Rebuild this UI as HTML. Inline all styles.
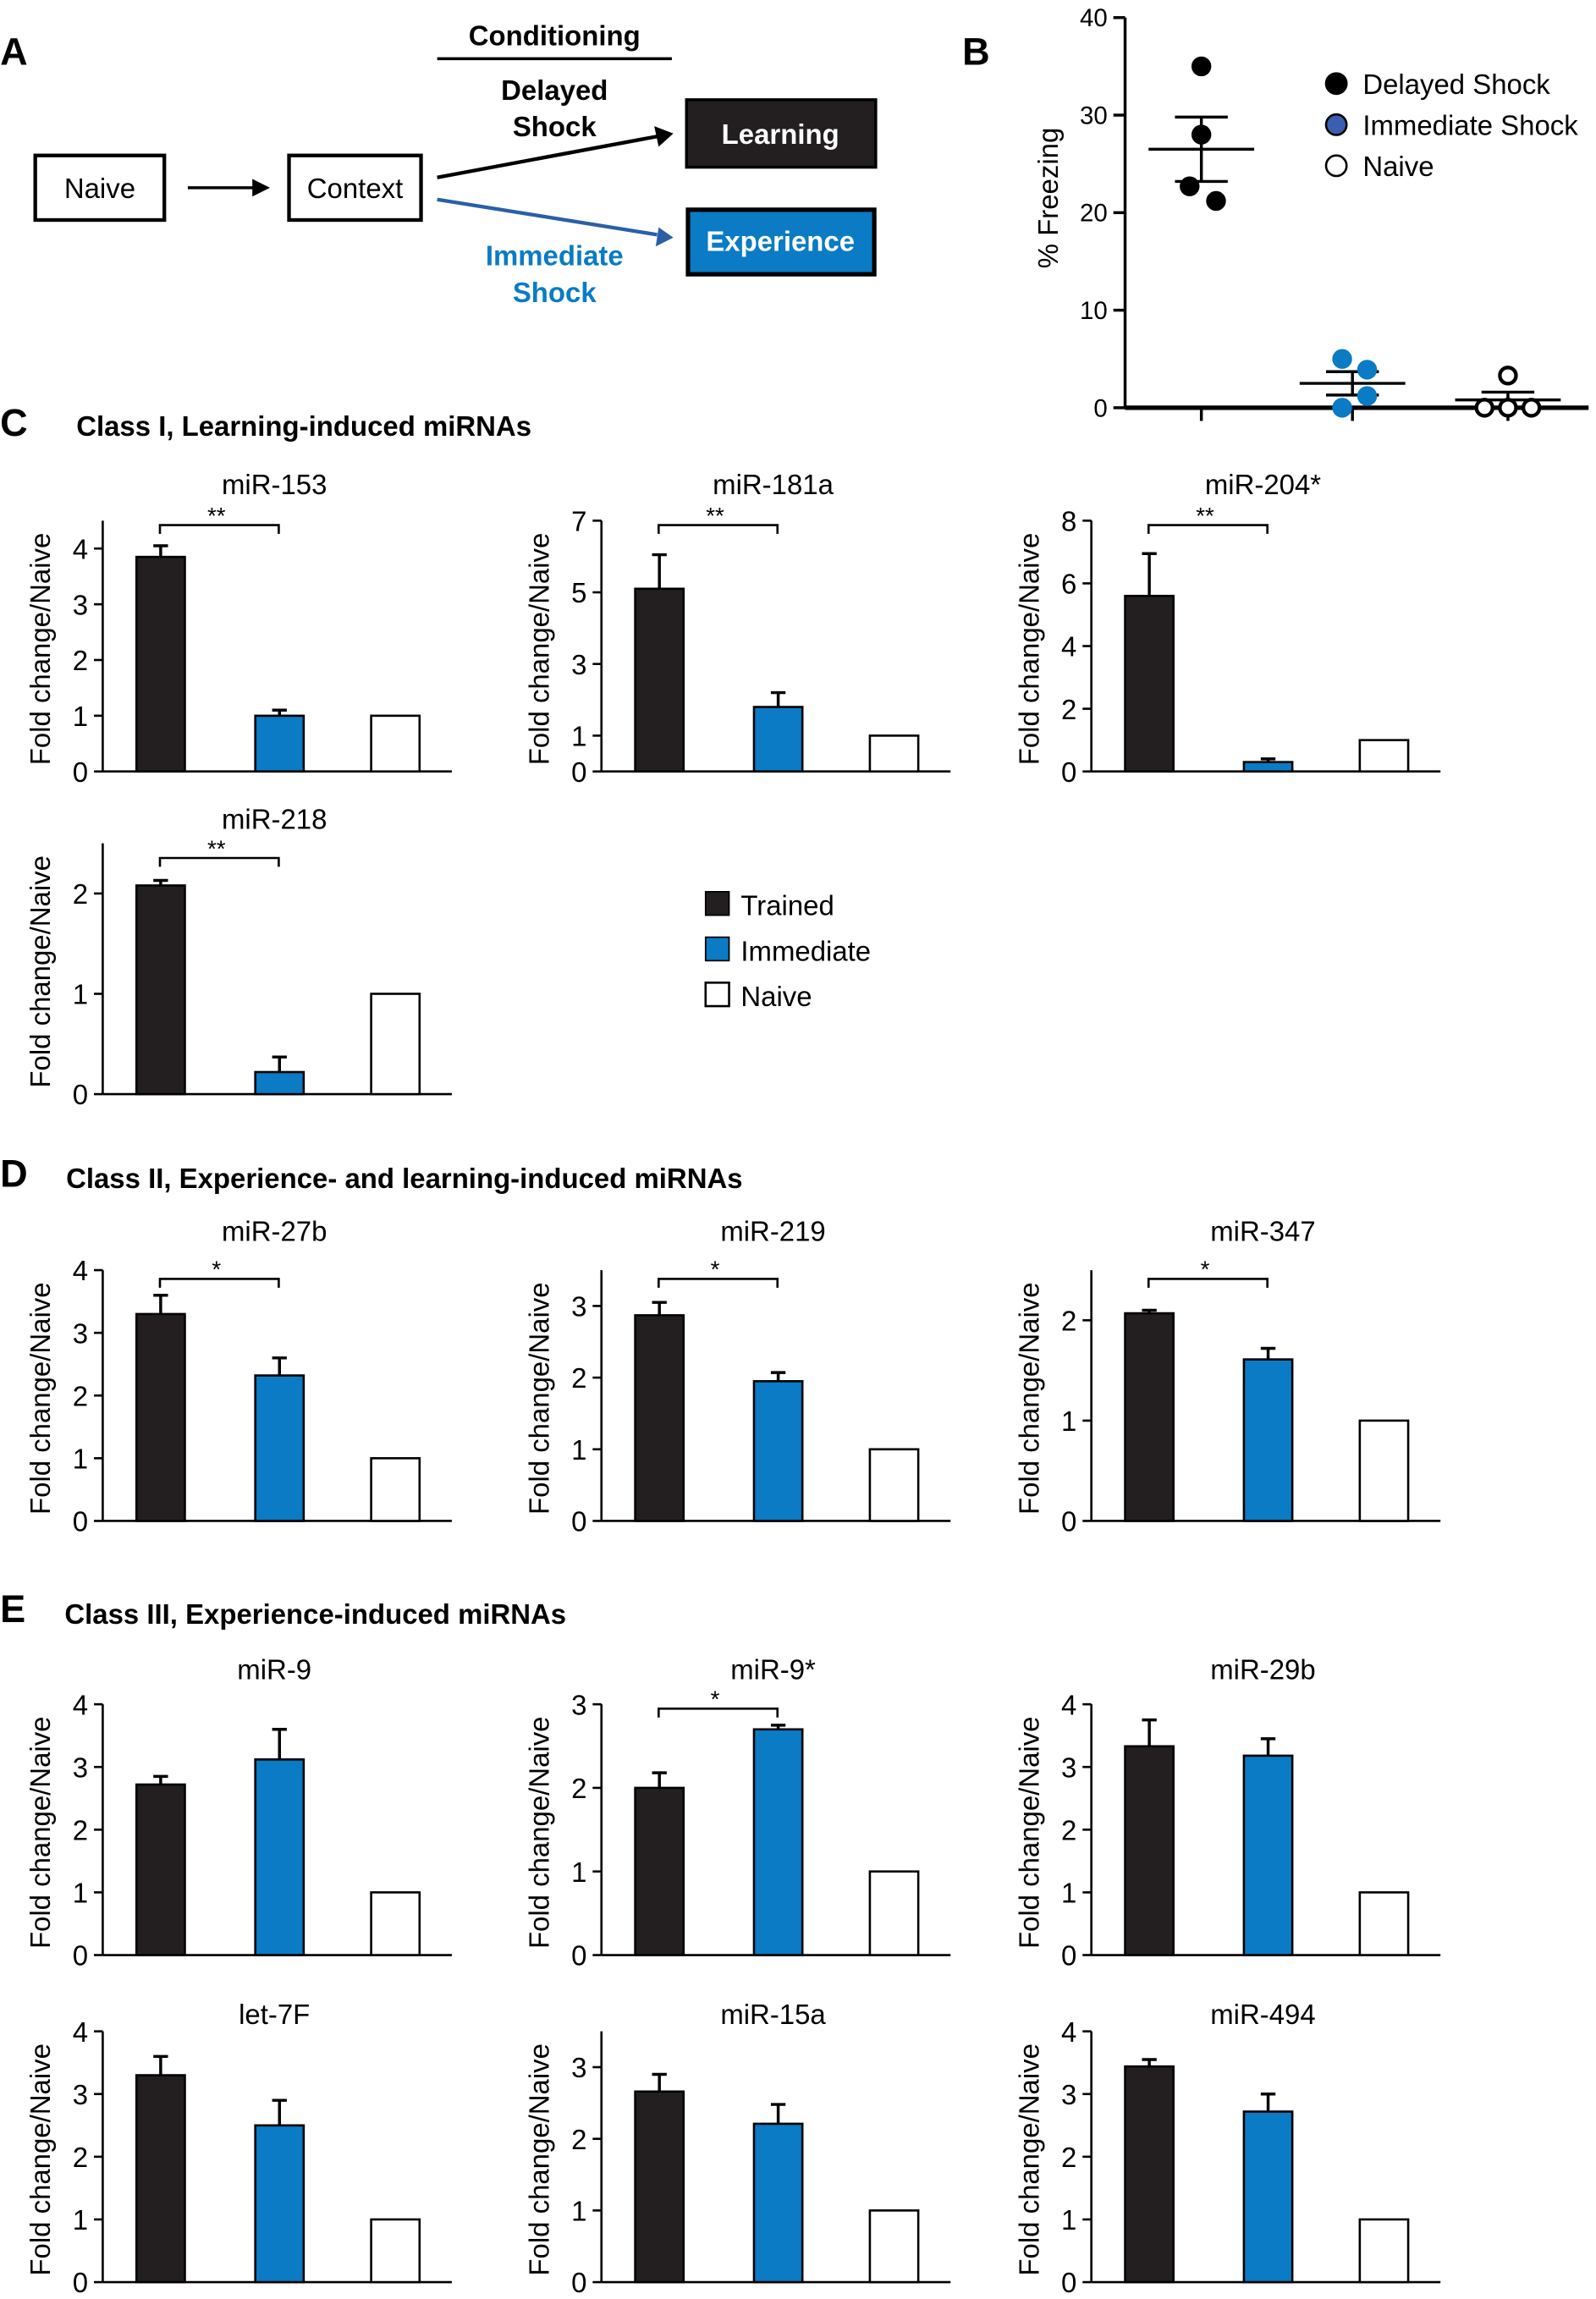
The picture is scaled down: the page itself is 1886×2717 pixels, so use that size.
<!DOCTYPE html>
<html><head><meta charset="utf-8"><style>
html,body{margin:0;padding:0;background:#fff}
svg{display:block;font-family:"Liberation Sans",Arial,sans-serif}
</style></head><body>
<svg id="fig" xmlns="http://www.w3.org/2000/svg" width="1886" height="2717" viewBox="0 0 1088 1567.5">
<g>
<text x="0" y="44" font-size="26" font-weight="bold">A</text>
<rect x="24" y="106" width="88" height="44" fill="none" stroke="#000" stroke-width="2.5"/>
<text x="68" y="135" font-size="19" text-anchor="middle">Naive</text>
<line x1="128" y1="128" x2="176" y2="128" stroke="#000" stroke-width="2"/>
<polygon points="184,128 172,122 172,134" fill="#000"/>
<rect x="197" y="106" width="90" height="44" fill="none" stroke="#000" stroke-width="2.5"/>
<text x="242" y="135" font-size="19" text-anchor="middle">Context</text>
<text x="378" y="31" font-size="19" font-weight="bold" text-anchor="middle">Conditioning</text>
<line x1="298" y1="40" x2="458" y2="40" stroke="#000" stroke-width="2"/>
<text x="378" y="68" font-size="19" font-weight="bold" text-anchor="middle">Delayed</text>
<text x="378" y="93" font-size="19" font-weight="bold" text-anchor="middle">Shock</text>
<line x1="298" y1="121" x2="448" y2="93" stroke="#000" stroke-width="2.5"/>
<polygon points="459,91 446,86 449,100" fill="#000"/>
<line x1="298" y1="136" x2="448" y2="160" stroke="#2a5fa8" stroke-width="2.5"/>
<polygon points="459,162 449,155 447,168" fill="#2a5fa8"/>
<text x="378" y="181" font-size="19" font-weight="bold" fill="#0a7bc4" text-anchor="middle">Immediate</text>
<text x="378" y="206" font-size="19" font-weight="bold" fill="#0a7bc4" text-anchor="middle">Shock</text>
<rect x="468" y="68" width="129" height="46" fill="#231f20" stroke="#000" stroke-width="2"/>
<text x="532" y="98" font-size="19" font-weight="bold" fill="#fff" text-anchor="middle">Learning</text>
<rect x="469" y="143" width="127" height="44" fill="#0a7bc4" stroke="#000" stroke-width="3"/>
<text x="532" y="171" font-size="19" font-weight="bold" fill="#fff" text-anchor="middle">Experience</text>
</g>
<text x="656" y="44" font-size="26" font-weight="bold">B</text>
<g id="panelB"></g>
<text x="0" y="297" font-size="26" font-weight="bold">C</text>
<text x="52" y="297" font-size="19" font-weight="bold">Class I, Learning-induced miRNAs</text>
<text x="0" y="809" font-size="26" font-weight="bold">D</text>
<text x="45" y="810" font-size="19" font-weight="bold">Class II, Experience- and learning-induced miRNAs</text>
<text x="0" y="1106" font-size="26" font-weight="bold">E</text>
<text x="44" y="1107" font-size="19" font-weight="bold">Class III, Experience-induced miRNAs</text>
<g>
<rect x="481" y="608" width="16" height="16" fill="#231f20" stroke="#000"/>
<text x="505" y="624" font-size="19">Trained</text>
<rect x="481" y="639" width="16" height="16" fill="#0a7bc4" stroke="#000"/>
<text x="505" y="655" font-size="19">Immediate</text>
<rect x="481" y="670" width="16" height="16" fill="#fff" stroke="#000" stroke-width="1.5"/>
<text x="505" y="686" font-size="19">Naive</text>
</g>
<g id="bars"></g>
</svg>
<script>
// Panel B data
const freezeTicks = [0, 10, 20, 30, 40];
const delayedPts = [35, 28, 22.7, 21.2];
const immediatePts = [5, 3.9, 1.2, 0];
const naivePts = [3.3, 0, 0, 0];
const freezeMeans = [26.5, 2.5, 0.8];
const freezeSem = [3.3, 1.2, 0.8];

// Bar chart data
const chartNames = ["miR-153","miR-181a","miR-204*","miR-218","miR-27b","miR-219","miR-347","miR-9","miR-9*","miR-29b","let-7F","miR-15a","miR-494"];
const chartMax = [4.5,7,8,2.5,4,3.5,2.5,4,3,4,4,3.5,4];
const chartTicks = [[0,1,2,3,4],[0,1,3,5,7],[0,2,4,6,8],[0,1,2],[0,1,2,3,4],[0,1,2,3],[0,1,2],[0,1,2,3,4],[0,1,2,3],[0,1,2,3,4],[0,1,2,3,4],[0,1,2,3],[0,1,2,3,4]];
const trainedVals = [3.85,5.1,5.6,2.08,3.3,2.87,2.07,2.72,2.0,3.33,3.3,2.66,3.44];
const trainedErr = [0.2,0.95,1.35,0.05,0.3,0.18,0.03,0.13,0.18,0.42,0.3,0.24,0.11];
const immediateVals = [1.0,1.8,0.3,0.22,2.32,1.95,1.61,3.12,2.7,3.18,2.5,2.21,2.72];
const immediateErr = [0.1,0.4,0.1,0.15,0.28,0.12,0.11,0.48,0.05,0.27,0.4,0.27,0.28];
const naiveVals = [1,1,1,1,1,1,1,1,1,1,1,1,1];
const sigMarks = ["**","**","**","**","*","*","*","","*","","","",""];

const NS = "http://www.w3.org/2000/svg";
function mk(parent, tag, attrs, text){
  const e = document.createElementNS(NS, tag);
  for (const k in attrs) e.setAttribute(k, attrs[k]);
  if (text !== undefined) e.textContent = text;
  parent.appendChild(e);
  return e;
}

// Panel B
(function(){
  const g = document.getElementById('panelB');
  const x0 = 767, yTop = 12, yBot = 278;
  const y = v => yBot - (v/40)*(yBot-yTop);
  mk(g,'line',{x1:x0,y1:yTop,x2:x0,y2:yBot,stroke:'#000','stroke-width':2});
  mk(g,'line',{x1:x0,y1:yBot,x2:1083,y2:yBot,stroke:'#000','stroke-width':3});
  freezeTicks.forEach(t=>{
    mk(g,'line',{x1:x0-8,y1:y(t),x2:x0,y2:y(t),stroke:'#000','stroke-width':2});
    const tl = mk(g,'text',{x:x0-12,y:y(t)+6,'font-size':17,'text-anchor':'end'},String(t));
    
    
  });
  const yl = mk(g,'text',{x:0,y:0,'font-size':19,'text-anchor':'middle',transform:'translate(721,135) rotate(-90)'},'% Freezing');
  
  
  const cx = [819, 922, 1028];
  cx.forEach(c=> mk(g,'line',{x1:c,y1:yBot,x2:c,y2:yBot+9,stroke:'#000','stroke-width':2}));
  const groups = [delayedPts, immediatePts, naivePts];
  const fills = ['#000','#0a7bc4','#fff'];
  const offs = [[0,0,-8,10],[-7,10,10,-7],[0,-16,0,16]];
  groups.forEach((pts,gi)=>{
    const m = freezeMeans[gi], s = freezeSem[gi];
    mk(g,'line',{x1:cx[gi]-36,y1:y(m),x2:cx[gi]+36,y2:y(m),stroke:'#000','stroke-width':2});
    mk(g,'line',{x1:cx[gi],y1:y(m+s),x2:cx[gi],y2:y(Math.max(0,m-s)),stroke:'#000','stroke-width':2});
    mk(g,'line',{x1:cx[gi]-18,y1:y(m+s),x2:cx[gi]+18,y2:y(m+s),stroke:'#000','stroke-width':2});
    mk(g,'line',{x1:cx[gi]-18,y1:y(Math.max(0,m-s)),x2:cx[gi]+18,y2:y(Math.max(0,m-s)),stroke:'#000','stroke-width':2});
    pts.forEach((v,i)=>{
      const d = mk(g,'circle',{cx:cx[gi]+offs[gi][i],cy:y(v),r:5.5,fill:fills[gi],stroke:gi===2?'#000':fills[gi],'stroke-width':2.5});
      
      
    });
  });
  const leg = [['Delayed Shock','#000','#000'],['Immediate Shock','#3a5fb0','#000'],['Naive','#fff','#000']];
  leg.forEach((l,i)=>{
    mk(g,'circle',{cx:911,cy:57+28*i,r:7,fill:l[1],stroke:l[2],'stroke-width':1.5});
    const t = mk(g,'text',{x:929,y:64+28*i,'font-size':19},l[0]);
    
    
  });
})();

// Bar charts
const colX = [70, 410, 744];
const rowY = [[355,526],[575,746],[866,1037],[1162,1333],[1385,1556]];
const titleGap = [18, 10, 20, 17, 5];
const bracketOff = [3, 10, 6, 3, 3];
const chartPos = [[0,0],[0,1],[0,2],[1,0],[2,0],[2,1],[2,2],[3,0],[3,1],[3,2],[4,0],[4,1],[4,2]];
const barG = document.getElementById('bars');
chartNames.forEach((name,i)=>{
  const [r,c] = chartPos[i];
  const ax = colX[c], yTop = rowY[r][0], yBot = rowY[r][1];
  const y = v => yBot - (v/chartMax[i])*(yBot-yTop);
  const g = mk(barG,'g',{});
  
  
  const t = mk(g,'text',{x:ax+117,y:yTop-titleGap[r],'font-size':19,'text-anchor':'middle'},name);
  
  
  mk(g,'line',{x1:ax,y1:yTop,x2:ax,y2:yBot,stroke:'#000','stroke-width':1.5});
  mk(g,'line',{x1:ax,y1:yBot,x2:ax+238,y2:yBot,stroke:'#000','stroke-width':1.5});
  chartTicks[i].forEach(tv=>{
    mk(g,'line',{x1:ax-6,y1:y(tv),x2:ax,y2:y(tv),stroke:'#000','stroke-width':1.5});
    const tl = mk(g,'text',{x:ax-10,y:y(tv)+7,'font-size':19,'text-anchor':'end'},String(tv));
    
    
  });
  const yl = mk(g,'text',{x:0,y:0,'font-size':19,'text-anchor':'middle',transform:`translate(${ax-36},${(yTop+yBot)/2+2}) rotate(-90)`},'Fold change/Naive');
  
  
  const bars = [[trainedVals[i],trainedErr[i],'#231f20',23,'trained'],[immediateVals[i],immediateErr[i],'#0a7bc4',104,'immediate'],[naiveVals[i],0,'#fff',183,'naive']];
  bars.forEach(b=>{
    const bx = ax+b[3], w = 33;
    if (b[1]>0){
      mk(g,'line',{x1:bx+w/2,y1:y(b[0]),x2:bx+w/2,y2:y(b[0]+b[1]),stroke:'#000','stroke-width':2});
      mk(g,'line',{x1:bx+w/2-5,y1:y(b[0]+b[1]),x2:bx+w/2+5,y2:y(b[0]+b[1]),stroke:'#000','stroke-width':2});
    }
    const rect = mk(g,'rect',{x:bx,y:y(b[0]),width:w,height:yBot-y(b[0]),fill:b[2],stroke:'#000','stroke-width':1.5});
    
    
  });
  if (sigMarks[i]){
    const by = yTop+bracketOff[r], x1 = ax+39, x2 = ax+120;
    mk(g,'path',{d:`M${x1},${by+6} V${by} H${x2} V${by+6}`,fill:'none',stroke:'#000','stroke-width':1.5});
    const s = mk(g,'text',{x:(x1+x2)/2-2,y:by-1,'font-size':16,'text-anchor':'middle'},sigMarks[i]);
    
    
  }
});
</script>
</body></html>
